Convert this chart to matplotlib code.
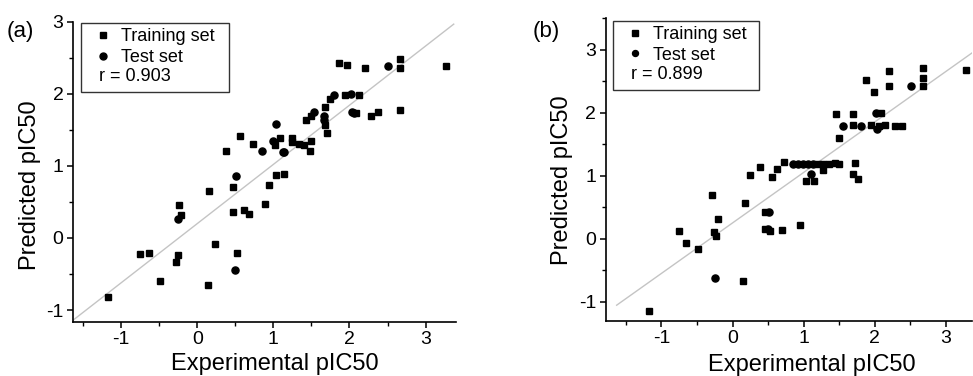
import matplotlib
matplotlib.use("Agg")
import matplotlib.pyplot as plt
import matplotlib.text as mtext
from matplotlib.lines import Line2D
import numpy as np

plt.rcParams['font.family'] = ['Liberation Sans', 'DejaVu Sans']
plt.rcParams['axes.unicode_minus'] = False

# panel (a) data
a_train_x = [-1.18, -0.75, -0.64, -0.49, -0.26, -0.28, -0.24, -0.21, 0.16, 0.23, 0.14, 0.47, 0.47,
             0.52, 0.62, 0.68, 0.38, 0.56, 0.73, 0.89, 0.94, 1.03, 1.14, 1.02, 1.09, 1.25, 1.25,
             1.33, 1.40, 1.50, 1.48, 1.43, 1.49, 1.68, 1.75, 1.68, 1.70, 1.86, 1.97, 2.20, 1.94,
             2.13, 2.08, 2.28, 2.38, 2.67, 2.67, 2.67, 3.27]
a_train_y = [-0.82, -0.22, -0.21, -0.60, -0.23, -0.33, 0.46, 0.32, 0.65, -0.09, -0.65, 0.70, 0.36,
             -0.21, 0.39, 0.33, 1.21, 1.42, 1.30, 0.47, 0.73, 0.87, 0.88, 1.29, 1.38, 1.38, 1.33,
             1.30, 1.29, 1.35, 1.20, 1.63, 1.69, 1.82, 1.92, 1.57, 1.46, 2.43, 2.40, 2.36, 1.98,
             1.98, 1.73, 1.69, 1.75, 2.48, 2.36, 1.78, 2.39]
a_test_x = [-0.25, 0.51, 0.49, 0.85, 0.99, 1.04, 1.12, 1.14, 1.54, 1.67, 1.67, 1.80, 2.02, 2.03, 2.06, 2.50]
a_test_y = [0.26, 0.86, -0.44, 1.21, 1.34, 1.58, 1.19, 1.19, 1.74, 1.69, 1.63, 1.98, 1.99, 1.75, 1.73, 2.39]
a_fit = (0.82, 0.20)
a_r = "r = 0.903"

# panel (b) data
b_train_x = [-1.18, -0.75, -0.65, -0.49, -0.29, -0.20, -0.26, -0.23, 0.15, 0.17, 0.24, 0.39, 0.56,
             0.62, 0.73, 0.46, 0.46, 0.53, 0.70, 0.95, 1.20, 1.28, 1.36, 1.44, 1.50, 1.73, 1.27,
             1.70, 1.77, 1.04, 1.15, 1.50, 1.46, 1.69, 1.69, 1.95, 2.06, 2.15, 2.29, 2.39, 2.09,
             1.88, 1.99, 2.20, 2.20, 2.68, 2.68, 2.68, 3.29]
b_train_y = [-1.14, 0.13, -0.07, -0.17, 0.69, 0.32, 0.10, 0.04, -0.67, 0.56, 1.01, 1.14, 0.98,
             1.11, 1.21, 0.43, 0.15, 0.13, 0.14, 0.22, 1.19, 1.19, 1.18, 1.20, 1.19, 1.20, 1.09,
             1.02, 0.95, 0.91, 0.91, 1.59, 1.97, 1.97, 1.81, 1.81, 1.78, 1.80, 1.79, 1.79, 2.00,
             2.51, 2.33, 2.66, 2.42, 2.70, 2.55, 2.42, 2.68]
b_test_x = [-0.24, 0.51, 0.50, 0.85, 0.92, 0.99, 1.06, 1.13, 1.10, 1.56, 1.81, 2.03, 2.02, 2.51]
b_test_y = [-0.62, 0.42, 0.15, 1.19, 1.19, 1.19, 1.19, 1.19, 1.02, 1.78, 1.78, 1.74, 2.00, 2.42]
b_fit = (0.80, 0.25)
b_r = "r = 0.899"


class TextHandle:
    def __init__(self, s):
        self.s = s


class TextHandler:
    # draws the r value in the marker column of the legend
    def legend_artist(self, legend, orig_handle, fontsize, handlebox):
        x0 = handlebox.xdescent + handlebox.width / 2 - 0.2 * fontsize
        y0 = -handlebox.ydescent + handlebox.height / 2
        t = mtext.Text(x0, y0, orig_handle.s, fontsize=fontsize, ha='left', va='center')
        handlebox.add_artist(t)
        return t


def panel(ax, tx, ty, sx, sy, fit, rtxt, xlim, ylim, leg_box, ylab_pos, xlab_pos, lms):
    xs = np.array([-1.63, 3.37])
    ax.plot(xs, fit[0] * xs + fit[1], color='#c4c4c4', lw=1.0, zorder=1)
    ax.plot(tx, ty, 's', color='black', ms=4.7, ls='none', zorder=3)
    ax.plot(sx, sy, 'o', color='black', ms=5.1, ls='none', zorder=3)
    ax.set_xlim(xlim)
    ax.set_ylim(ylim)
    for s in ['top', 'right']:
        ax.spines[s].set_visible(False)
    for s in ['left', 'bottom']:
        ax.spines[s].set_linewidth(1.2)
    ax.set_xticks([-1, 0, 1, 2, 3])
    ax.set_xticks([-1.5, -0.5, 0.5, 1.5, 2.5], minor=True)
    yt = [v for v in [-1, 0, 1, 2, 3] if ylim[0] <= v <= ylim[1]]
    ax.set_yticks(yt)
    ax.set_yticks([v + 0.5 for v in range(-2, 4) if ylim[0] <= v + 0.5 <= ylim[1]], minor=True)
    ax.tick_params(which='major', direction='out', length=4, width=1.1, labelsize=14, pad=3)
    ax.tick_params(which='minor', direction='out', length=2.8, width=1.0)
    ax.set_xlabel('Experimental pIC50', fontsize=17)
    ax.set_ylabel('Predicted pIC50', fontsize=17)
    ax.xaxis.set_label_coords(*xlab_pos)
    ax.yaxis.set_label_coords(*ylab_pos)
    h1 = Line2D([], [], marker='s', color='black', ls='none', ms=lms)
    h2 = Line2D([], [], marker='o', color='black', ls='none', ms=lms + 0.5)
    h3 = TextHandle(rtxt)
    leg = ax.legend([h1, h2, h3], ['Training set', 'Test set', ''],
                    handler_map={TextHandle: TextHandler()},
                    loc='upper left', bbox_to_anchor=leg_box, mode='expand', borderaxespad=0,
                    fontsize=13, frameon=True, fancybox=False, edgecolor='black',
                    borderpad=0.3, labelspacing=0.2, handlelength=1.84, handletextpad=0.09)
    leg.get_frame().set_linewidth(1.0)


fig = plt.figure(figsize=(9.73, 3.76), dpi=100)
ax1 = fig.add_axes([73.3 / 973, 1 - 321.7 / 376, (456 - 73.3) / 973, (321.7 - 21.5) / 376])
ax2 = fig.add_axes([606 / 973, 1 - 320.7 / 376, (972 - 606) / 973, (320.7 - 18) / 376])

panel(ax1, a_train_x, a_train_y, a_test_x, a_test_y, a_fit, a_r,
      (-1.63, 3.4), (-1.16, 3.0), (0.02, 0.695, 0.387, 0.3), (-0.084, 0.455), (0.527, -0.105), 4.5)
panel(ax2, b_train_x, b_train_y, b_test_x, b_test_y, b_fit, b_r,
      (-1.78, 3.37), (-1.3, 3.5), (0.018, 0.691, 0.399, 0.3), (-0.09, 0.465), (0.561, -0.11), 3.8)

fig.text(7 / 973, 1 - 31 / 376, '(a)', fontsize=16, ha='left', va='center')
fig.text(533 / 973, 1 - 32 / 376, '(b)', fontsize=16, ha='left', va='center')

fig.savefig('out.png', dpi=100)
